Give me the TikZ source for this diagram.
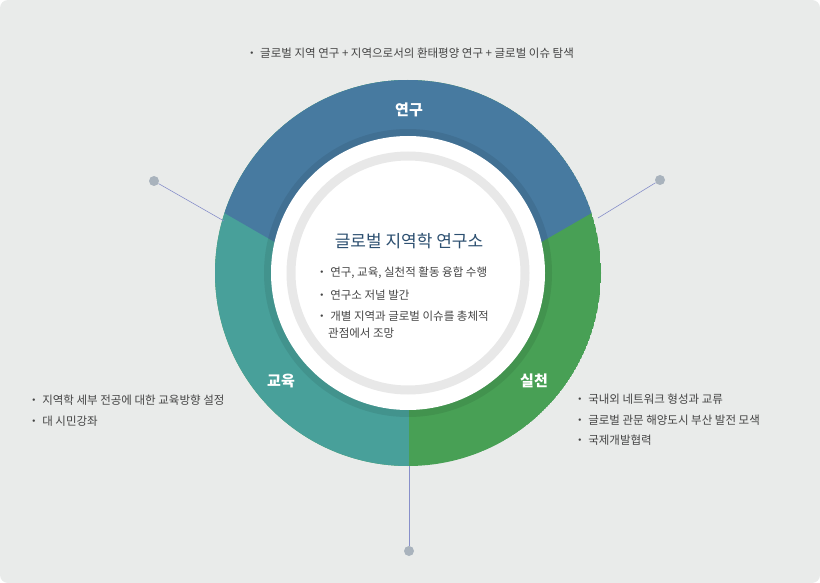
\documentclass[tikz,border=0pt]{standalone}
\usepackage{fontspec}
\usetikzlibrary{calc}
\setmainfont{Noto Sans CJK KR}
\definecolor{bg}{HTML}{E9EBEA}
\definecolor{blu}{HTML}{477AA0}
\definecolor{tea}{HTML}{48A09A}
\definecolor{gre}{HTML}{48A055}
\definecolor{ttl}{HTML}{2C4F70}
\definecolor{txt}{HTML}{444444}
\definecolor{dotc}{HTML}{A9B3BD}
\begin{document}
\begin{tikzpicture}[x=1pt,y=-1pt,
  body/.style={font=\fontsize{11.5}{14}\selectfont,text=txt,anchor=west,inner sep=0},
  seg/.style={font=\fontsize{15}{18}\selectfont\bfseries,text=white},
  dot/.style={circle,fill=dotc,inner sep=0,minimum size=10pt},
  lead/.style={draw=dotc!80!blue,line width=0.6pt}]
\useasboundingbox (0,0) rectangle (820,583);
\fill[bg,rounded corners=8pt] (0,0) rectangle (820,583);
\coordinate (c) at (408,273);
\coordinate (w) at (408,319);
% ring segments
\begin{scope}
\clip (c) circle[radius=193];
\fill[gre] (c) circle[radius=193];
\fill[tea] (-10,-10) rectangle (409,600);
\fill[blu] (w) -- ($(w)+(150:-400)$) -- (0,-400) -- (820,-400) -- ($(w)+(30:-400)$) -- cycle;
\end{scope}
\fill[black,opacity=0.08] (c) circle[radius=144];
\fill[white] (c) circle[radius=137];
\draw[color=black!9,line width=9pt] (c) circle[radius=117];
% labels
\node[seg] (yg) at (409,110) {연구};
\node[seg] (ed) at (281,381) {교육};
\node[seg] (sc) at (534,381) {실천};
\node[font=\fontsize{17}{20}\selectfont,text=ttl] (title) at (409,241) {글로벌 지역학 연구소};
\node[body] (b1) at (316,273) {・ 연구, 교육, 실천적 활동 융합 수행};
\node[body] (b2) at (316,295) {・ 연구소 저널 발간};
\node[body] (b3) at (316,316) {・ 개별 지역과 글로벌 이슈를 총체적};
\node[body] (b4) at (328,333) {관점에서 조망};
\node[body,anchor=center] (top) at (410,53) {・ 글로벌 지역 연구 + 지역으로서의 환태평양 연구 + 글로벌 이슈 탐색};
\node[body] (l1) at (28,400) {・ 지역학 세부 전공에 대한 교육방향 설정};
\node[body] (l2) at (28,421) {・ 대 시민강좌};
\node[body] (r1) at (574,399) {・ 국내외 네트워크 형성과 교류};
\node[body] (r2) at (574,420) {・ 글로벌 관문 해양도시 부산 발전 모색};
\node[body] (r3) at (574,440) {・ 국제개발협력};
% leaders
\node[dot] (d1) at (154,181) {};
\node[dot] (d2) at (660,180) {};
\node[dot] (d3) at (409,551) {};
\coordinate (e1) at (224,221);
\coordinate (e2) at (598,218);
\coordinate (e3) at (409,466);
\draw[lead] (d1) -- (e1);
\draw[lead] (d2) -- (e2);
\draw[lead] (d3) -- (e3);
\end{tikzpicture}
\end{document}
